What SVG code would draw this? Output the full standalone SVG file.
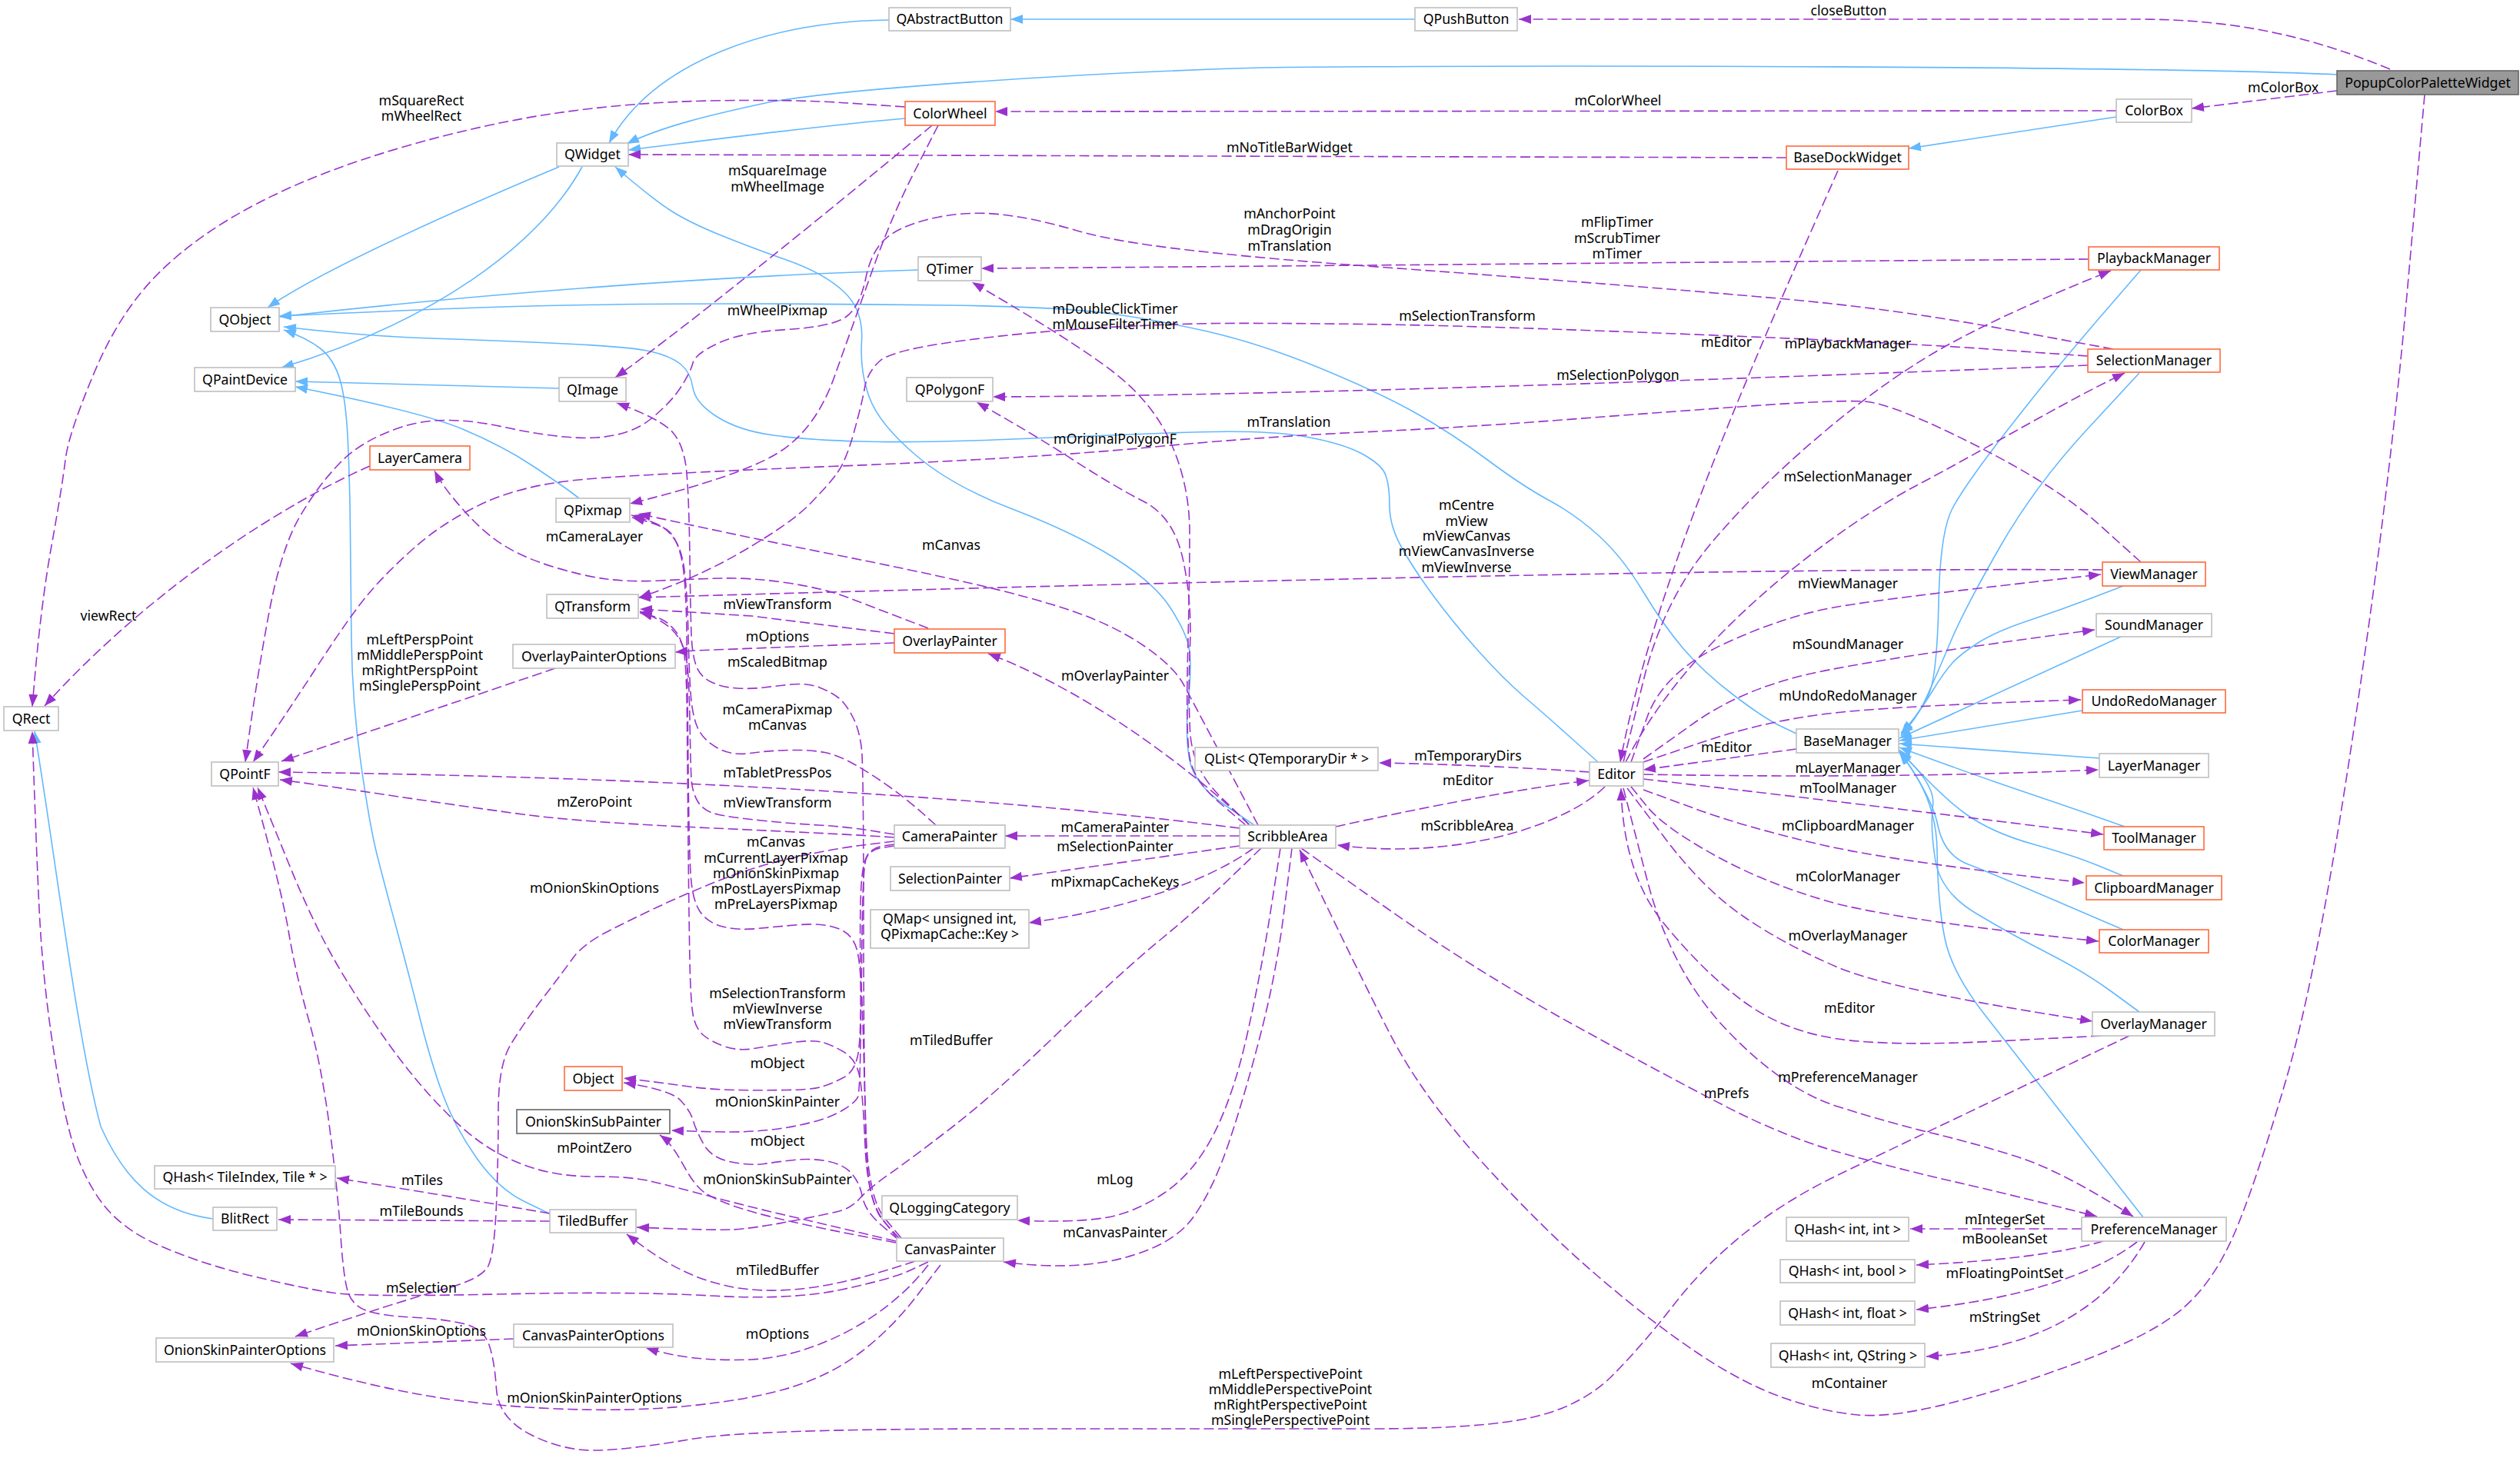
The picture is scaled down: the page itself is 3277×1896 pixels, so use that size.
<svg xmlns="http://www.w3.org/2000/svg" width="3277" height="1896" viewBox="0 0 3277 1896">
<style>
.n{fill:#fff;stroke:#bfbfbf;stroke-width:1.6}
.o{fill:#fff;stroke:#ff6a3d;stroke-width:1.6}
.d{fill:#fff;stroke:#666;stroke-width:1.6}
.g{fill:#999;stroke:#666;stroke-width:1.6}
text{font-family:"Noto Sans","Open Sans","DejaVu Sans",sans-serif;font-size:17.7px;fill:#000;text-anchor:middle}
.b{fill:none;stroke:#63b8ff;stroke-width:1.6;stroke-linejoin:round;marker-end:url(#ab)}
.p{fill:none;stroke:#9a32cd;stroke-width:1.6;stroke-dasharray:13,5.5;stroke-linejoin:round;marker-end:url(#ap)}
</style>
<defs>
<marker id="ab" markerUnits="userSpaceOnUse" markerWidth="18" markerHeight="14" refX="16" refY="6" orient="auto"><path d="M0,0 L16,6 L0,12 z" fill="#63b8ff"/></marker>
<marker id="ap" markerUnits="userSpaceOnUse" markerWidth="18" markerHeight="14" refX="16" refY="6" orient="auto"><path d="M0,0 L16,6 L0,12 z" fill="#9a32cd"/></marker>
</defs>
<rect width="3277" height="1896" fill="#fff"/>
<g id="edges">
<path class="b" d="M1840,25 L1314,25"/>
<path class="b" d="M1156,26 C1000,28 850,80 792,186"/>
<path class="b" d="M3039,97 C2800,86 2000,84 1640,88 C1400,95 1100,115 1000,133 C920,150 860,165 815,187"/>
<path class="b" d="M1177,154 C1050,165 900,185 817,195"/>
<path class="b" d="M727,217 C600,270 420,350 348,400"/>
<path class="b" d="M757,217 C700,320 560,420 366,478"/>
<path class="b" d="M1194,351 C900,360 600,385 363,412"/>
<path class="b" d="M2336,954 L2315,944 Q2294,934 2254.5,904 Q2215,874 2189,843.5 Q2163,813 2136.5,769 Q2110,725 2080,697.5 Q2050,670 2015,651 Q1980,632 1935,598.5 Q1890,565 1843.5,538.5 Q1797,512 1718.5,479.5 Q1640,447 1570,431 Q1500,415 1437,407 Q1374,399 1237,397 Q1100,395 960,395 Q820,395 710,397.5 Q600,400 363,411"/>
<path class="b" d="M2078,991 L2044,960.5 Q2010,930 1982,906 Q1954,882 1922,846 Q1890,810 1864.5,775.5 Q1839,741 1823,712.5 Q1807,684 1807,658 Q1807,632 1802,618 Q1797,604 1771,590 Q1745,576 1692.5,567 Q1640,558 1520,563 Q1400,568 1293,572 Q1186,576 1118,574 Q1050,572 1005.5,566 Q961,560 932.5,542 Q904,524 901,504 Q898,484 885,473.5 Q872,463 846,457 Q820,451 735,447 Q650,443 560.5,440 Q471,437 369,425"/>
<path class="b" d="M714,1578 L681,1562 Q648,1546 619.5,1505.5 Q591,1465 575.5,1422.5 Q560,1380 545.5,1322 Q531,1264 515.5,1207 Q500,1150 490.5,1112.5 Q481,1075 469.5,994.5 Q458,914 457,832 Q456,750 455.5,691 Q455,632 452.5,576 Q450,520 442,493.5 Q434,467 417,453.5 Q400,440 369,429"/>
<path class="b" d="M727,505 L384,496"/>
<path class="b" d="M753,648 L742.5,640 Q732,632 693,606 Q654,580 601.5,558 Q549,536 384,503"/>
<path class="b" d="M1631,1073 L1591.5,1046 Q1552,1019 1546.5,986.5 Q1541,954 1545.5,908 Q1550,862 1546,841.5 Q1542,821 1521,789 Q1500,757 1447.5,724.5 Q1395,692 1316.5,662 Q1238,632 1191,592 Q1144,552 1131,518 Q1118,484 1120.5,443.5 Q1123,403 1097,379 Q1071,355 1024,338.5 Q977,322 937.5,306 Q898,290 874,275 Q850,260 800,217"/>
<path class="b" d="M2752,152 L2482,193"/>
<path class="b" d="M277,1585 C200,1575 160,1530 131,1465 C100,1350 70,1100 45,951"/>
<path class="b" d="M2784,351 L2726.5,417.5 Q2669,484 2611.5,558 Q2554,632 2538.5,662 Q2523,692 2521,783 Q2519,874 2509.5,899.5 Q2500,925 2472,953"/>
<path class="b" d="M2782,485 L2714,558.5 Q2646,632 2600,712.5 Q2554,793 2537,833.5 Q2520,874 2505.5,906 Q2491,938 2472,955"/>
<path class="b" d="M2761,762 L2720.5,777.5 Q2680,793 2638,807 Q2596,821 2573,835.5 Q2550,850 2539,862 Q2528,874 2514,897 Q2500,920 2472,957"/>
<path class="b" d="M2758,828 L2470,960"/>
<path class="b" d="M2708,924 L2470,963"/>
<path class="b" d="M2730,986 L2470,967"/>
<path class="b" d="M2763,1075 L2729,1063 Q2695,1051 2630,1029 Q2565,1007 2470,972"/>
<path class="b" d="M2761,1139 L2728,1125.5 Q2695,1112 2643,1097.5 Q2591,1083 2557,1059 Q2523,1035 2470,975"/>
<path class="b" d="M2761,1209 L2676,1172.5 Q2591,1136 2559.5,1124 Q2528,1112 2520,1073.5 Q2512,1035 2470,977"/>
<path class="b" d="M2782,1316 L2746.5,1290 Q2711,1264 2664,1240 Q2617,1216 2570,1188 Q2523,1160 2516.5,1117.5 Q2510,1075 2513.5,1047 Q2517,1019 2470,978"/>
<path class="b" d="M2787,1583 L2703.5,1476.5 Q2620,1370 2579,1317 Q2538,1264 2529,1220 Q2520,1176 2519,1105.5 Q2518,1035 2470,979"/>

<path class="p" d="M3108,90 C3000,45 2900,25 2780,25 L1975,25"/>
<path class="p" d="M3039,118 L2850,141"/>
<path class="p" d="M3153,123 L3130.5,377.5 Q3108,632 3061,948 Q3014,1264 2972.5,1405 Q2931,1546 2904.5,1606.5 Q2878,1667 2839,1701 Q2800,1735 2708.5,1769.5 Q2617,1804 2538.5,1824 Q2460,1844 2416,1840 Q2372,1836 2320,1818 Q2268,1800 2207.5,1759.5 Q2147,1719 2076.5,1658.5 Q2006,1598 1927.5,1511.5 Q1849,1425 1807.5,1344.5 Q1766,1264 1690,1105"/>
<path class="p" d="M2752,144 L1294,145"/>
<path class="p" d="M2323,205 L817,201"/>
<path class="p" d="M2390,222 C2280,470 2150,760 2107,991"/>
<path class="p" d="M1177,139 L1103,134 Q1029,129 924.5,131 Q820,133 724,147 Q628,161 523,191.5 Q418,222 339.5,262 Q261,302 209,352.5 Q157,403 123,483.5 Q89,564 85,598 Q81,632 66.5,712.5 Q52,793 42,919"/>
<path class="p" d="M1212,163 C1120,240 900,420 800,491"/>
<path class="p" d="M1220,163 L1190,221.5 Q1160,280 1135,350 Q1110,420 1085,490 Q1060,560 1010,590 Q960,620 819,655"/>
<path class="p" d="M2716,337 C2300,340 1700,346 1276,349"/>
<path class="p" d="M2748,454 L2604,427.5 Q2460,401 2311.5,388 Q2163,375 2032,365 Q1901,355 1770.5,345.5 Q1640,336 1544,325 Q1448,314 1399,299.5 Q1350,285 1307,279.5 Q1264,274 1222,282 Q1180,290 1157,306 Q1134,322 1126,361 Q1118,400 1099.5,412.5 Q1081,425 1023,428.5 Q965,432 934.5,446 Q904,460 901,472 Q898,484 885,504 Q872,524 846,545 Q820,566 776,569 Q732,572 653.5,555 Q575,538 523,555 Q471,572 442,602 Q413,632 389.5,672.5 Q366,713 350.5,793.5 Q335,874 319,991"/>
<path class="p" d="M1620,1073 L1586,1044 Q1552,1015 1547,984.5 Q1542,954 1544.5,853.5 Q1547,753 1547,692.5 Q1547,632 1523.5,578 Q1500,524 1447.5,483.5 Q1395,443 1264,367"/>
<path class="p" d="M2715,463 L2587.5,454 Q2460,445 2180.5,434 Q1901,423 1770.5,421.5 Q1640,420 1583,420.5 Q1526,421 1434.5,426 Q1343,431 1251.5,443 Q1160,455 1144,469.5 Q1128,484 1124.5,504 Q1121,524 1110.5,562 Q1100,600 1088,616 Q1076,632 1052.5,656 Q1029,680 966.5,716.5 Q904,753 831,777"/>
<path class="p" d="M2715,475 C2400,487 1700,515 1291,516"/>
<path class="p" d="M2111,991 L2137,885.5 Q2163,780 2225.5,706 Q2288,632 2374,560 Q2460,488 2538.5,445.5 Q2617,403 2745,352"/>
<path class="p" d="M2114,991 C2200,820 2400,680 2491,632 S2680,525 2763,485"/>
<path class="p" d="M2784,731 L2729,681.5 Q2674,632 2567,578 Q2460,524 2424,522 Q2388,520 2275.5,528 Q2163,536 2032,546 Q1901,556 1770.5,562 Q1640,568 1491.5,582 Q1343,596 1081.5,606.5 Q820,617 747.5,624.5 Q675,632 625,656 Q575,680 538.5,712.5 Q502,745 478.5,773 Q455,801 410.5,869.5 Q366,938 329,991"/>
<path class="p" d="M2734,741 C2300,738 1600,755 830,777"/>
<path class="p" d="M2121,991 L2142,932.5 Q2163,874 2241.5,837.5 Q2320,801 2390,789 Q2460,777 2732,747"/>
<path class="p" d="M2137,987 L2202.5,940.5 Q2268,894 2364,874 Q2460,854 2724,819"/>
<path class="p" d="M2137,991 L2215.5,964.5 Q2294,938 2377,928 Q2460,918 2706,910"/>
<path class="p" d="M2336,974 L2137,1001"/>
<path class="p" d="M2137,1007 Q2460,1013 2729,1001"/>
<path class="p" d="M2137,1013 Q2460,1050 2735,1085"/>
<path class="p" d="M2137,1027 L2202.5,1051 Q2268,1075 2364,1097.5 Q2460,1120 2711,1148"/>
<path class="p" d="M2121,1023 L2142,1049 Q2163,1075 2228.5,1111.5 Q2294,1148 2377,1172 Q2460,1196 2729,1224"/>
<path class="p" d="M2116,1025 L2165.5,1090.5 Q2215,1156 2267.5,1192 Q2320,1228 2390,1258 Q2460,1288 2721,1328"/>
<path class="p" d="M2732,1347 L2596,1354 Q2460,1361 2390,1351 Q2320,1341 2267.5,1302.5 Q2215,1264 2163,1200 Q2111,1136 2108,1025"/>
<path class="p" d="M2111,1025 L2142,1144.5 Q2173,1264 2246.5,1340.5 Q2320,1417 2390,1439 Q2460,1461 2512.5,1473.5 Q2565,1486 2622.5,1504 Q2680,1522 2774,1582"/>
<path class="p" d="M1692,1103 L1807,1183.5 Q1922,1264 2042.5,1330.5 Q2163,1397 2241.5,1437.5 Q2320,1478 2390,1498 Q2460,1518 2538.5,1536 Q2617,1554 2727,1582"/>
<path class="p" d="M2769,1347 L2614.5,1420.5 Q2460,1494 2390,1528 Q2320,1562 2267.5,1604.5 Q2215,1647 2176,1697.5 Q2137,1748 2097.5,1788 Q2058,1828 1993,1843 Q1928,1858 1784,1858 Q1640,1858 1308.5,1858 Q977,1858 898.5,1871.5 Q820,1885 776,1886 Q732,1887 690,1865.5 Q648,1844 645.5,1806 Q643,1768 635.5,1747.5 Q628,1727 601.5,1721 Q575,1715 536,1713 Q497,1711 478.5,1705 Q460,1699 453.5,1683 Q447,1667 443,1606.5 Q439,1546 428.5,1465.5 Q418,1385 401,1324.5 Q384,1264 375,1210 Q366,1156 329,1024"/>
<path class="p" d="M1165,1614 L1123,1604 Q1081,1594 1029,1582 Q977,1570 924.5,1556 Q872,1542 846,1536 Q820,1530 773.5,1530 Q727,1530 690.5,1518 Q654,1506 625,1485.5 Q596,1465 559.5,1425 Q523,1385 482.5,1324.5 Q442,1264 419.5,1220 Q397,1176 376.5,1125.5 Q356,1075 335,1024"/>
<path class="p" d="M722,869 L366,990"/>
<path class="p" d="M1163,836 L904,846 L878,848"/>
<path class="p" d="M1163,824 L977,801 L832,792"/>
<path class="p" d="M1207,817 L1170.5,803 Q1134,789 1102.5,777 Q1071,765 1024,758 Q977,751 937.5,752 Q898,753 859,755 Q820,757 789,753 Q758,749 719,737 Q680,725 654,708.5 Q628,692 601.5,662 Q575,632 565,612"/>
<path class="p" d="M1636,1073 L1594,993.5 Q1552,914 1539,890 Q1526,866 1487,839.5 Q1448,813 1395.5,795 Q1343,777 1264.5,759 Q1186,741 1081.5,720.5 Q977,700 830,668"/>
<path class="p" d="M1625,1073 C1560,1010 1420,900 1285,850"/>
<path class="p" d="M1612,1087 L1307,1087"/>
<path class="p" d="M1612,1100 L1313,1142"/>
<path class="p" d="M1630,1103 C1580,1140 1480,1180 1338,1200"/>
<path class="p" d="M1612,1077 C1400,1050 1000,1012 362,1004"/>
<path class="p" d="M1665,1103 L1652.5,1183.5 Q1640,1264 1622,1344.5 Q1604,1425 1578,1475.5 Q1552,1526 1513,1552 Q1474,1578 1434.5,1584 Q1395,1590 1323,1587"/>
<path class="p" d="M1680,1103 L1670,1183.5 Q1660,1264 1640,1342 Q1620,1420 1599,1483 Q1578,1546 1552,1582.5 Q1526,1619 1460.5,1636 Q1395,1653 1305,1641"/>
<path class="p" d="M1640,1103 L1600,1141.5 Q1560,1180 1509,1222 Q1458,1264 1374.5,1344.5 Q1291,1425 1238.5,1465.5 Q1186,1506 1157.5,1526 Q1129,1546 1118.5,1558 Q1108,1570 1094.5,1574 Q1081,1578 1029,1588 Q977,1598 951,1599 Q925,1600 828,1596"/>
<path class="p" d="M1190,1640 C1100,1670 1030,1685 960,1675 C900,1665 860,1640 815,1605"/>
<path class="p" d="M1207,1641 L1183.5,1652 Q1160,1663 1094.5,1677 Q1029,1691 924.5,1685 Q820,1679 645.5,1683 Q471,1687 431.5,1681 Q392,1675 326.5,1659 Q261,1643 209,1620.5 Q157,1598 131,1562 Q105,1526 91.5,1475.5 Q78,1425 66.5,1344.5 Q55,1264 51,1182 Q47,1100 42,951"/>
<path class="p" d="M1207,1645 C1150,1720 1050,1765 977,1768 C920,1770 880,1765 840,1753"/>
<path class="p" d="M1223,1645 L1191.5,1686 Q1160,1727 1120.5,1757.5 Q1081,1788 1029,1804 Q977,1820 898.5,1828 Q820,1836 724,1832 Q628,1828 549.5,1814 Q471,1800 378,1773"/>
<path class="p" d="M668,1741 L436,1750"/>
<path class="p" d="M1163,1094 L1122,1099 Q1081,1104 1029,1116 Q977,1128 932.5,1146 Q888,1164 854,1180 Q820,1196 789,1212 Q758,1228 745,1246 Q732,1264 706,1298 Q680,1332 664,1358.5 Q648,1385 648,1445.5 Q648,1506 645.5,1566.5 Q643,1627 635.5,1645 Q628,1663 575.5,1677 Q523,1691 384,1738"/>
<path class="p" d="M1163,1089 C1000,1078 800,1075 680,1059 C560,1043 450,1025 364,1014"/>
<path class="p" d="M1163,1085 L1131.5,1080 Q1100,1075 1064.5,1073 Q1029,1071 990,1067 Q951,1063 933,1059 Q915,1055 907.5,1042.5 Q900,1030 899,1012.5 Q898,995 897,934.5 Q896,874 892,853.5 Q888,833 874,819 Q860,805 832,795"/>
<path class="p" d="M1217,1073 L1198.5,1056.5 Q1180,1040 1157,1023.5 Q1134,1007 1112,994.5 Q1090,982 1072.5,978.5 Q1055,975 1027.5,975.5 Q1000,976 975.5,979.5 Q951,983 932.5,972.5 Q914,962 907,946 Q900,930 898,900 Q896,870 895,825 Q894,780 891,750 Q888,720 880,706 Q872,692 861,685 Q850,678 821,670"/>
<path class="p" d="M1172,1610 L1151,1585 Q1130,1560 1126.5,1480 Q1123,1400 1123,1200 Q1123,1000 1120.5,975 Q1118,950 1109,932.5 Q1100,915 1090.5,907.5 Q1081,900 1065.5,894 Q1050,888 1030,890 Q1010,892 993.5,894 Q977,896 958.5,895 Q940,894 925,887 Q910,880 905,865 Q900,850 899,825 Q898,800 897,725 Q896,650 893,615 Q890,580 875,562.5 Q860,545 802,524"/>
<path class="p" d="M1168,1612 L1148,1586 Q1128,1560 1125,1490 Q1122,1420 1117.5,1398.5 Q1113,1377 1096.5,1367.5 Q1080,1358 1067.5,1355 Q1055,1352 1027.5,1356 Q1000,1360 980.5,1363.5 Q961,1367 943,1361 Q925,1355 914.5,1346 Q904,1337 901,1318.5 Q898,1300 897,1250 Q896,1200 895,1100 Q894,1000 893.5,940 Q893,880 890.5,856.5 Q888,833 879,821.5 Q870,810 860.5,805.5 Q851,801 832,797"/>
<path class="p" d="M1170,1611 L1149,1588 Q1128,1565 1126,1482.5 Q1124,1400 1122,1330 Q1120,1260 1115,1237.5 Q1110,1215 1090,1207.5 Q1070,1200 1040,1202.5 Q1010,1205 985,1207.5 Q960,1210 940,1205 Q920,1200 910,1185 Q900,1170 898,1135 Q896,1100 895,1000 Q894,900 893,825 Q892,750 886,725 Q880,700 870,691 Q860,682 822,673"/>
<path class="p" d="M1163,1098 L1148.5,1100 Q1134,1102 1127.5,1113 Q1121,1124 1119.5,1160 Q1118,1196 1119,1268 Q1120,1340 1116.5,1366.5 Q1113,1393 1096.5,1401.5 Q1080,1410 1067.5,1413.5 Q1055,1417 1022.5,1417.5 Q990,1418 957.5,1417.5 Q925,1417 892.5,1412.5 Q860,1408 811,1402"/>
<path class="p" d="M1163,1100 L1146.5,1102.5 Q1130,1105 1126,1117.5 Q1122,1130 1121,1215 Q1120,1300 1119,1360 Q1118,1420 1115.5,1426.5 Q1113,1433 1097,1443 Q1081,1453 1055.5,1459.5 Q1030,1466 1003.5,1469 Q977,1472 948.5,1472 Q920,1472 873,1470"/>
<path class="p" d="M1168,1612 L1146.5,1593.5 Q1125,1575 1121.5,1556.5 Q1118,1538 1107.5,1526 Q1097,1514 1076,1510 Q1055,1506 1032.5,1508.5 Q1010,1511 993.5,1513.5 Q977,1516 951,1511 Q925,1506 915,1488 Q905,1470 901.5,1457.5 Q898,1445 885,1431 Q872,1417 811,1408"/>
<path class="p" d="M1165,1616 C1050,1594 950,1575 915,1550 C890,1530 885,1495 858,1476"/>
<path class="p" d="M715,1578 C640,1565 520,1545 438,1532"/>
<path class="p" d="M715,1588 L362,1586"/>
<path class="p" d="M2707,1598 L2484,1598"/>
<path class="p" d="M2735,1614 C2680,1630 2600,1640 2492,1645"/>
<path class="p" d="M2779,1615 C2720,1660 2620,1690 2492,1703"/>
<path class="p" d="M2789,1615 C2740,1700 2650,1755 2505,1764"/>
<path class="p" d="M481,606 C380,650 200,760 58,918"/>
<path class="p" d="M1625,1073 L1587.5,1036.5 Q1550,1000 1547.5,950 Q1545,900 1547.5,840 Q1550,780 1538,726 Q1526,672 1487,652 Q1448,632 1395.5,598 Q1343,564 1270,523"/>
<path class="p" d="M2067,1004 C1950,996 1850,993 1793,992"/>
<path class="p" d="M2087,1023 C2040,1070 1900,1120 1739,1099"/>
<path class="p" d="M1737,1075 C1850,1050 1980,1025 2066,1015"/>
</g>

<g id="n-Popup"><rect class="g" x="3039" y="92" width="236" height="31"/><text x="3157" y="113.5">PopupColorPaletteWidget</text></g>
<g id="n-QPushButton"><rect class="n" x="1840" y="10" width="133" height="30"/><text x="1906.5" y="31">QPushButton</text></g>
<g id="n-QAbstractButton"><rect class="n" x="1156" y="10" width="158" height="30"/><text x="1235" y="31">QAbstractButton</text></g>
<g id="n-QWidget"><rect class="n" x="724" y="186" width="93" height="30"/><text x="770.5" y="207">QWidget</text></g>
<g id="n-ColorWheel"><rect class="o" x="1177" y="132" width="117" height="31"/><text x="1235.5" y="153.5">ColorWheel</text></g>
<g id="n-ColorBox"><rect class="n" x="2752" y="129" width="98" height="30"/><text x="2801" y="150">ColorBox</text></g>
<g id="n-BaseDockWidget"><rect class="o" x="2323" y="190" width="159" height="30"/><text x="2402.5" y="211">BaseDockWidget</text></g>
<g id="n-QObject"><rect class="n" x="274" y="400" width="89" height="31"/><text x="318.5" y="421.5">QObject</text></g>
<g id="n-QPaintDevice"><rect class="n" x="253" y="478" width="131" height="31"/><text x="318.5" y="499.5">QPaintDevice</text></g>
<g id="n-QImage"><rect class="n" x="727" y="491" width="87" height="31"/><text x="770.5" y="512.5">QImage</text></g>
<g id="n-QTimer"><rect class="n" x="1194" y="334" width="82" height="31"/><text x="1235" y="355.5">QTimer</text></g>
<g id="n-QPolygonF"><rect class="n" x="1179" y="491" width="112" height="31"/><text x="1235" y="512.5">QPolygonF</text></g>
<g id="n-LayerCamera"><rect class="o" x="481" y="580" width="130" height="31"/><text x="546" y="601.5">LayerCamera</text></g>
<g id="n-QPixmap"><rect class="n" x="723" y="648" width="96" height="31"/><text x="771" y="669.5">QPixmap</text></g>
<g id="n-QTransform"><rect class="n" x="711" y="773" width="119" height="31"/><text x="770.5" y="794.5">QTransform</text></g>
<g id="n-OverlayPainterOptions"><rect class="n" x="667" y="838" width="211" height="31"/><text x="772.5" y="859.5">OverlayPainterOptions</text></g>
<g id="n-QRect"><rect class="n" x="5" y="919" width="71" height="31"/><text x="40.5" y="940.5">QRect</text></g>
<g id="n-QPointF"><rect class="n" x="275" y="991" width="87" height="31"/><text x="318.5" y="1012.5">QPointF</text></g>
<g id="n-QList"><rect class="n" x="1554" y="972" width="238" height="30"/><text x="1673" y="993">QList&lt; QTemporaryDir * &gt;</text></g>
<g id="n-Editor"><rect class="n" x="2067" y="991" width="70" height="31"/><text x="2102" y="1012.5">Editor</text></g>
<g id="n-BaseManager"><rect class="n" x="2336" y="948" width="133" height="31"/><text x="2402.5" y="969.5">BaseManager</text></g>
<g id="n-PlaybackManager"><rect class="o" x="2716" y="321" width="170" height="30"/><text x="2801" y="342">PlaybackManager</text></g>
<g id="n-SelectionManager"><rect class="o" x="2715" y="454" width="172" height="30"/><text x="2801" y="475">SelectionManager</text></g>
<g id="n-ViewManager"><rect class="o" x="2734" y="731" width="134" height="31"/><text x="2801" y="752.5">ViewManager</text></g>
<g id="n-SoundManager"><rect class="n" x="2726" y="798" width="150" height="30"/><text x="2801" y="819">SoundManager</text></g>
<g id="n-UndoRedoManager"><rect class="o" x="2708" y="897" width="186" height="30"/><text x="2801" y="918">UndoRedoManager</text></g>
<g id="n-LayerManager"><rect class="n" x="2730" y="980" width="142" height="31"/><text x="2801" y="1001.5">LayerManager</text></g>
<g id="n-ToolManager"><rect class="o" x="2736" y="1075" width="130" height="30"/><text x="2801" y="1096">ToolManager</text></g>
<g id="n-ClipboardManager"><rect class="o" x="2713" y="1139" width="176" height="31"/><text x="2801" y="1160.5">ClipboardManager</text></g>
<g id="n-ColorManager"><rect class="o" x="2730" y="1209" width="142" height="30"/><text x="2801" y="1230">ColorManager</text></g>
<g id="n-OverlayManager"><rect class="n" x="2721" y="1316" width="159" height="31"/><text x="2800.5" y="1337.5">OverlayManager</text></g>
<g id="n-PreferenceManager"><rect class="n" x="2707" y="1583" width="188" height="31"/><text x="2801" y="1604.5">PreferenceManager</text></g>
<g id="n-OverlayPainter"><rect class="o" x="1163" y="818" width="144" height="31"/><text x="1235" y="839.5">OverlayPainter</text></g>
<g id="n-CameraPainter"><rect class="n" x="1163" y="1073" width="144" height="30"/><text x="1235" y="1094">CameraPainter</text></g>
<g id="n-ScribbleArea"><rect class="n" x="1612" y="1073" width="125" height="30"/><text x="1674.5" y="1094">ScribbleArea</text></g>
<g id="n-SelectionPainter"><rect class="n" x="1158" y="1127" width="155" height="31"/><text x="1235.5" y="1148.5">SelectionPainter</text></g>
<g id="n-QMap"><rect class="n" x="1132" y="1183" width="206" height="50"/><text x="1235" y="1201">QMap&lt; unsigned int,</text><text x="1235" y="1221"> QPixmapCache::Key &gt;</text></g>
<g id="n-Object"><rect class="o" x="734" y="1387" width="75" height="31"/><text x="771.5" y="1408.5">Object</text></g>
<g id="n-OnionSkinSubPainter"><rect class="d" x="672" y="1443" width="199" height="31"/><text x="771.5" y="1464.5">OnionSkinSubPainter</text></g>
<g id="n-QHashTile"><rect class="n" x="201" y="1516" width="235" height="30"/><text x="318.5" y="1537">QHash&lt; TileIndex, Tile * &gt;</text></g>
<g id="n-BlitRect"><rect class="n" x="277" y="1570" width="83" height="30"/><text x="318.5" y="1591">BlitRect</text></g>
<g id="n-TiledBuffer"><rect class="n" x="715" y="1573" width="112" height="30"/><text x="771" y="1594">TiledBuffer</text></g>
<g id="n-QLoggingCategory"><rect class="n" x="1147" y="1555" width="176" height="31"/><text x="1235" y="1576.5">QLoggingCategory</text></g>
<g id="n-CanvasPainter"><rect class="n" x="1166" y="1610" width="139" height="30"/><text x="1235.5" y="1631">CanvasPainter</text></g>
<g id="n-CanvasPainterOptions"><rect class="n" x="668" y="1722" width="207" height="30"/><text x="771.5" y="1743">CanvasPainterOptions</text></g>
<g id="n-OnionSkinPainterOptions"><rect class="n" x="203" y="1740" width="231" height="31"/><text x="318.5" y="1761.5">OnionSkinPainterOptions</text></g>
<g id="n-QHashInt"><rect class="n" x="2323" y="1583" width="159" height="31"/><text x="2402.5" y="1604.5">QHash&lt; int, int &gt;</text></g>
<g id="n-QHashBool"><rect class="n" x="2315" y="1638" width="175" height="30"/><text x="2402.5" y="1659">QHash&lt; int, bool &gt;</text></g>
<g id="n-QHashFloat"><rect class="n" x="2315" y="1692" width="175" height="31"/><text x="2402.5" y="1713.5">QHash&lt; int, float &gt;</text></g>
<g id="n-QHashString"><rect class="n" x="2303" y="1747" width="200" height="31"/><text x="2403" y="1768.5">QHash&lt; int, QString &gt;</text></g>

<g id="labels">
<text x="2404" y="20">closeButton</text>
<text x="2969" y="120">mColorBox</text>
<text x="548" y="137">mSquareRect</text><text x="548" y="157">mWheelRect</text>
<text x="2104" y="137">mColorWheel</text>
<text x="1677" y="198">mNoTitleBarWidget</text>
<text x="1011" y="228">mSquareImage</text><text x="1011" y="249">mWheelImage</text>
<text x="1677" y="284">mAnchorPoint</text><text x="1677" y="305">mDragOrigin</text><text x="1677" y="326">mTranslation</text>
<text x="2103" y="295">mFlipTimer</text><text x="2103" y="316">mScrubTimer</text><text x="2103" y="336">mTimer</text>
<text x="1011" y="410">mWheelPixmap</text>
<text x="1450" y="408">mDoubleClickTimer</text><text x="1450" y="428">mMouseFilterTimer</text>
<text x="1908" y="417">mSelectionTransform</text>
<text x="2245" y="451">mEditor</text>
<text x="2403" y="453">mPlaybackManager</text>
<text x="2104" y="494">mSelectionPolygon</text>
<text x="1676" y="555">mTranslation</text>
<text x="1450" y="577">mOriginalPolygonF</text>
<text x="2403" y="626">mSelectionManager</text>
<text x="1907" y="663">mCentre</text><text x="1907" y="684">mView</text><text x="1907" y="703">mViewCanvas</text><text x="1907" y="723">mViewCanvasInverse</text><text x="1907" y="744">mViewInverse</text>
<text x="1237" y="715">mCanvas</text>
<text x="773" y="704">mCameraLayer</text>
<text x="2403" y="765">mViewManager</text>
<text x="1011" y="792">mViewTransform</text>
<text x="141" y="807">viewRect</text>
<text x="1011" y="834">mOptions</text>
<text x="546" y="838">mLeftPerspPoint</text><text x="546" y="858">mMiddlePerspPoint</text><text x="546" y="878">mRightPerspPoint</text><text x="546" y="898">mSinglePerspPoint</text>
<text x="2403" y="844">mSoundManager</text>
<text x="1011" y="867">mScaledBitmap</text>
<text x="1450" y="885">mOverlayPainter</text>
<text x="2403" y="911">mUndoRedoManager</text>
<text x="1011" y="929">mCameraPixmap</text><text x="1011" y="949">mCanvas</text>
<text x="2245" y="978">mEditor</text>
<text x="1909" y="989">mTemporaryDirs</text>
<text x="2403" y="1005">mLayerManager</text>
<text x="1011" y="1011">mTabletPressPos</text>
<text x="1909" y="1021">mEditor</text>
<text x="2403" y="1031">mToolManager</text>
<text x="773" y="1049">mZeroPoint</text>
<text x="1011" y="1050">mViewTransform</text>
<text x="1450" y="1082">mCameraPainter</text>
<text x="1908" y="1080">mScribbleArea</text>
<text x="2403" y="1080">mClipboardManager</text>
<text x="1009" y="1101">mCanvas</text><text x="1009" y="1122">mCurrentLayerPixmap</text><text x="1009" y="1142">mOnionSkinPixmap</text><text x="1009" y="1162">mPostLayersPixmap</text><text x="1009" y="1182">mPreLayersPixmap</text>
<text x="1450" y="1107">mSelectionPainter</text>
<text x="2403" y="1146">mColorManager</text>
<text x="1450" y="1153">mPixmapCacheKeys</text>
<text x="773" y="1161">mOnionSkinOptions</text>
<text x="2403" y="1223">mOverlayManager</text>
<text x="1011" y="1298">mSelectionTransform</text><text x="1011" y="1318">mViewInverse</text><text x="1011" y="1338">mViewTransform</text>
<text x="2405" y="1317">mEditor</text>
<text x="1237" y="1359">mTiledBuffer</text>
<text x="1011" y="1389">mObject</text>
<text x="2403" y="1407">mPreferenceManager</text>
<text x="2245" y="1428">mPrefs</text>
<text x="1011" y="1439">mOnionSkinPainter</text>
<text x="1011" y="1490">mObject</text>
<text x="773" y="1499">mPointZero</text>
<text x="1011" y="1540">mOnionSkinSubPainter</text>
<text x="1450" y="1540">mLog</text>
<text x="549" y="1541">mTiles</text>
<text x="548" y="1581">mTileBounds</text>
<text x="2607" y="1592">mIntegerSet</text>
<text x="1450" y="1609">mCanvasPainter</text>
<text x="2607" y="1617">mBooleanSet</text>
<text x="1011" y="1658">mTiledBuffer</text>
<text x="2607" y="1662">mFloatingPointSet</text>
<text x="548" y="1681">mSelection</text>
<text x="2607" y="1719">mStringSet</text>
<text x="548" y="1737">mOnionSkinOptions</text>
<text x="1011" y="1741">mOptions</text>
<text x="1678" y="1793">mLeftPerspectivePoint</text><text x="1678" y="1813">mMiddlePerspectivePoint</text><text x="1678" y="1833">mRightPerspectivePoint</text><text x="1678" y="1853">mSinglePerspectivePoint</text>
<text x="2405" y="1805">mContainer</text>
<text x="773" y="1824">mOnionSkinPainterOptions</text>
</g>
</svg>
